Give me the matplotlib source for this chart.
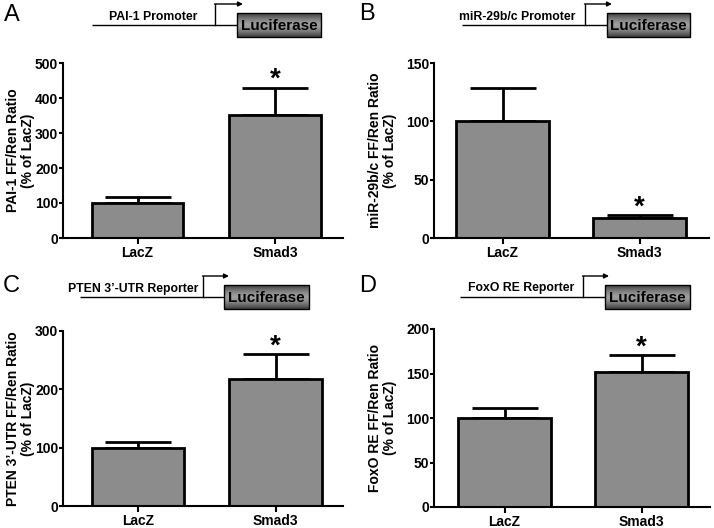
import numpy as np
import matplotlib
matplotlib.use("Agg")
import matplotlib.pyplot as plt
from matplotlib.patches import Rectangle

plt.rcParams['font.family'] = ['Liberation Sans', 'DejaVu Sans']

categories = ["LacZ", "Smad3"]

panel_letters = ["A", "B", "C", "D"]
construct_labels = ["PAI-1 Promoter", "miR-29b/c Promoter",
                    "PTEN 3\u2019-UTR Reporter", "FoxO RE Reporter"]
ylabels = ["PAI-1 FF/Ren Ratio\n(% of LacZ)",
           "miR-29b/c FF/Ren Ratio\n(% of LacZ)",
           "PTEN 3\u2019-UTR FF/Ren Ratio\n(% of LacZ)",
           "FoxO RE FF/Ren Ratio\n(% of LacZ)"]

means_A = [100, 352]
errs_A = [17, 78]
means_B = [100, 17]
errs_B = [29, 2.5]
means_C = [100, 218]
errs_C = [9, 42]
means_D = [100, 152]
errs_D = [11, 19]

ymax = [500, 150, 300, 200]
ystep = [100, 50, 100, 50]
stars = [[False, True], [False, True], [False, True], [False, True]]

means = [means_A, means_B, means_C, means_D]
errs = [errs_A, errs_B, errs_C, errs_D]

W, H = 714, 528
fig = plt.figure(figsize=(W / 100, H / 100), dpi=100)

# axes boxes in pixels: (left, right, top, bottom)
boxes = [(63, 343, 63, 238), (434, 709, 63, 238),
         (63, 343, 331, 506), (434, 710, 329, 507)]
xlims = [(-0.542, 1.494), (-0.50, 1.507), (-0.545, 1.49), (-0.515, 1.50)]
widths = [0.665, 0.68, 0.67, 0.68]
label_right_px = [35, 397, 35, 397]

bar_color = "#8c8c8c"
for i in range(4):
    l, r, t, b = boxes[i]
    ax = fig.add_axes([l / W, (H - b) / H, (r - l) / W, (b - t) / H])
    x = np.arange(len(categories))
    ax.bar(x, means[i], width=widths[i], color=bar_color, edgecolor="black",
           linewidth=2.0, zorder=2)
    ax.errorbar(x, means[i], yerr=[np.zeros(len(x)), errs[i]], fmt="none",
                ecolor="black", elinewidth=2.0, capsize=24, capthick=2.0, zorder=1)
    for j in range(len(x)):
        if stars[i][j]:
            ax.annotate("*", xy=(x[j], means[i][j] + errs[i][j]), xytext=(0, -4),
                        textcoords="offset points", ha="center", va="bottom",
                        fontsize=20, fontweight="bold")
    ax.set_xlim(*xlims[i])
    ax.set_ylim(0, ymax[i])
    ax.set_yticks(np.arange(0, ymax[i] + 1, ystep[i]))
    ax.set_xticks(x)
    ax.set_xticklabels(categories)
    for s in ["top", "right"]:
        ax.spines[s].set_visible(False)
    for s in ["left", "bottom"]:
        ax.spines[s].set_linewidth(1.5)
    ax.tick_params(axis="both", direction="out", length=3, width=1.5,
                   labelsize=10, pad=0.5)
    ax.tick_params(axis="x", length=4, pad=2)
    for lab in ax.get_xticklabels() + ax.get_yticklabels():
        lab.set_fontweight("bold")
    ax.set_ylabel(ylabels[i], fontsize=10, fontweight="bold",
                  linespacing=1.05)
    ax.yaxis.set_label_coords((label_right_px[i] - l) / (r - l), 0.5)
    ax.patch.set_alpha(0)

# overlay for construct diagrams and panel letters (pixel coords)
ov = fig.add_axes([0, 0, 1, 1], zorder=10)
ov.set_xlim(0, W)
ov.set_ylim(H, 0)
ov.axis("off")
ov.patch.set_alpha(0)

# (line_x0, box_x0, box_x1, line_y, arrow_x, arrow_top, arrow_end, box_top, box_bot, text_x, text_y)
diagrams = [
    (92, 237, 321, 25, 215, 4, 243, 13, 37, 153, 17),
    (462, 607, 690, 25, 585, 4, 612, 13, 37, 517, 17),
    (80, 224, 309, 297, 203, 276, 229, 285, 309, 133, 289),
    (460, 605, 690, 297, 583, 276, 609, 285, 309, 521, 288),
]
grad = np.abs(np.linspace(-1, 1, 64))[:, None]
grad = 0.62 - 0.38 * grad ** 1.5
for i, d in enumerate(diagrams):
    lx0, bx0, bx1, ly, axx, at, ae, bt, bb, tx, ty = d
    ov.plot([lx0, bx0], [ly, ly], color="black", lw=1.0, solid_capstyle="butt")
    ov.plot([axx, axx], [ly, at], color="black", lw=1.0)
    ov.annotate("", xy=(ae, at), xytext=(axx - 0.5, at),
                arrowprops=dict(arrowstyle="-|>", color="black", lw=1.0,
                                mutation_scale=7, shrinkA=0, shrinkB=0))
    ov.imshow(grad, cmap="gray", vmin=0, vmax=1, extent=[bx0, bx1, bb, bt],
              aspect="auto", interpolation="bilinear", zorder=2)
    ov.add_patch(Rectangle((bx0, bt), bx1 - bx0, bb - bt, fill=False,
                           edgecolor="black", lw=1.0, zorder=3))
    ov.text((bx0 + bx1) / 2, (bt + bb) / 2 + 1, "Luciferase", ha="center",
            va="center", fontsize=11, fontweight="bold", zorder=4)
    ov.text(tx, ty, construct_labels[i], ha="center", va="center",
            fontsize=8.8, fontweight="bold")
ov.set_xlim(0, W)
ov.set_ylim(H, 0)

letter_pos = [(4, 15), (359, 14), (3, 286), (359, 286)]
for i, (px, py) in enumerate(letter_pos):
    ov.text(px, py, panel_letters[i], ha="left", va="center", fontsize=17)

fig.savefig("out.png", dpi=100)
